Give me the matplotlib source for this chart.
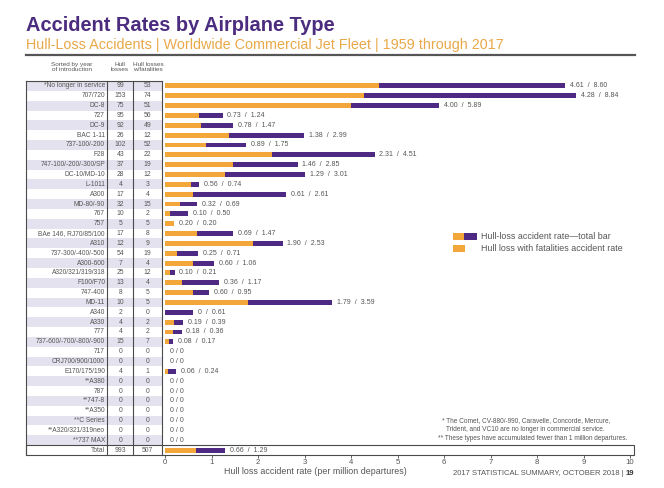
import matplotlib.pyplot as plt
import matplotlib.transforms as mtransforms
from matplotlib.patches import Rectangle
from matplotlib.lines import Line2D

plt.rcParams['font.family'] = ['Liberation Sans Narrow', 'Liberation Sans', 'DejaVu Sans']

# data
types = ['*No longer in service', '707/720', 'DC-8', '727', 'DC-9', 'BAC 1-11',
         '737-100/-200', 'F28', '747-100/-200/-300/SP', 'DC-10/MD-10', 'L-1011',
         'A300', 'MD-80/-90', '767', '757', 'BAe 146, RJ70/85/100', 'A310',
         '737-300/-400/-500', 'A300-600', 'A320/321/319/318', 'F100/F70', '747-400',
         'MD-11', 'A340', 'A330', '777', '737-600/-700/-800/-900', '717',
         'CRJ700/900/1000', 'E170/175/190', '**A380', '787', '**747-8', '**A350',
         '**C Series', '**A320/321/319neo', '**737 MAX', 'Total']
hull_losses = [99, 153, 75, 95, 92, 26, 102, 43, 37, 28, 4, 17, 32, 10, 5, 17, 12,
               54, 7, 25, 13, 8, 10, 2, 4, 4, 15, 0, 0, 4, 0, 0, 0, 0, 0, 0, 0, 993]
fatal_losses = [53, 74, 51, 56, 49, 12, 52, 22, 19, 12, 3, 4, 15, 2, 5, 8, 9,
                19, 4, 12, 4, 5, 5, 0, 2, 2, 7, 0, 0, 1, 0, 0, 0, 0, 0, 0, 0, 507]
fatal_rate = [4.61, 4.28, 4.00, 0.73, 0.78, 1.38, 0.89, 2.31, 1.46, 1.29, 0.56,
              0.61, 0.32, 0.10, 0.20, 0.69, 1.90, 0.25, 0.60, 0.10, 0.36, 0.60,
              1.79, 0, 0.19, 0.18, 0.08, 0, 0, 0.06, 0, 0, 0, 0, 0, 0, 0, 0.66]
total_rate = [8.60, 8.84, 5.89, 1.24, 1.47, 2.99, 1.75, 4.51, 2.85, 3.01, 0.74,
              2.61, 0.69, 0.50, 0.20, 1.47, 2.53, 0.71, 1.06, 0.21, 1.17, 0.95,
              3.59, 0.61, 0.39, 0.36, 0.17, 0, 0, 0.24, 0, 0, 0, 0, 0, 0, 0, 1.29]
xticks = list(range(0, 11))

ORANGE = '#F3A73B'
PURPLE = '#4E2A84'
GREY = '#555555'
LINE = '#4a4a4a'
SHADE = '#E3E2EE'

W, H = 664, 488
fig = plt.figure(figsize=(W / 100, H / 100), dpi=100)

def fx(px):
    return px / W

def fy(py):
    return 1 - py / H

# title block
fig.text(fx(26), fy(31), 'Accident Rates by Airplane Type', color='#4B2C7F',
         fontsize=14.4, fontweight='bold', family='Liberation Sans', va='baseline')
fig.text(fx(26), fy(48.5), 'Hull-Loss Accidents | Worldwide Commercial Jet Fleet | 1959 through 2017',
         color='#E9A849', fontsize=10.4, family='Liberation Sans', va='baseline')
fig.add_artist(Line2D([fx(26), fx(635)], [fy(54.5), fy(54.5)], color='#555555', lw=1.6))

# column headers
fig.text(fx(72), fy(67), 'Sorted by year\nof introduction', fontsize=4.6, color=GREY,
         ha='center', va='center', linespacing=1.1)
fig.text(fx(120), fy(67), 'Hull\nlosses', fontsize=4.6, color=GREY,
         ha='center', va='center', linespacing=1.1)
fig.text(fx(148), fy(67), 'Hull losses\nw/fatalities', fontsize=4.6, color=GREY,
         ha='center', va='center', linespacing=1.1)

# main axes: bars region
ax = fig.add_axes([fx(162), fy(455), fx(634 - 162), (455 - 81) / H])
n = len(types)
y = list(range(n))
x0_px, x10_px = 165, 630
per = (x10_px - x0_px) / 10
ax.set_xlim((162 - x0_px) / per, (634 - x0_px) / per)
ax.set_ylim(n - 0.5, -0.5)

ax.barh(y, total_rate, height=0.5, color=PURPLE, zorder=3)
ax.barh(y, fatal_rate, height=0.5, color=ORANGE, zorder=4)

for i in y:
    f, t = fatal_rate[i], total_rate[i]
    if t == 0:
        lab = '0 / 0'
    elif f == 0:
        lab = '0  /  %.2f' % t
    else:
        lab = '%.2f  /  %.2f' % (f, t)
    ax.text(t + 0.1, i, lab, fontsize=5.0, color=GREY, va='center', ha='left')

ax.set_xticks(xticks)
ax.set_xticklabels([str(v) for v in xticks], fontsize=5.6, color=GREY)
ax.tick_params(axis='x', length=2.2, width=0.6, color=LINE, pad=1)
ax.set_yticks([])
for s in ['top', 'right', 'bottom']:
    ax.spines[s].set_visible(False)
ax.spines['left'].set_color(LINE)
ax.spines['left'].set_linewidth(0.8)

# table on the left (figure x, data y)
tr = mtransforms.blended_transform_factory(fig.transFigure, ax.transData)
for i in y:
    if i % 2 == 0 and i < n - 1:
        ax.add_patch(Rectangle((fx(26), i - 0.5), fx(162 - 26), 1, transform=tr,
                               color=SHADE, lw=0, clip_on=False, zorder=0))
    ax.text(fx(105), i, types[i], transform=tr, fontsize=4.8, color=GREY,
            ha='right', va='center', clip_on=False)
    ax.text(fx(120.5), i, str(hull_losses[i]), transform=tr, fontsize=4.9, color=GREY,
            ha='center', va='center', clip_on=False)
    ax.text(fx(147.5), i, str(fatal_losses[i]), transform=tr, fontsize=4.9, color=GREY,
            ha='center', va='center', clip_on=False)

# table lines
for xp in [26, 107, 133]:
    ax.add_line(Line2D([fx(xp), fx(xp)], [-0.5, n - 0.5], transform=tr, color=LINE,
                       lw=0.8, clip_on=False))
ax.add_line(Line2D([fx(26), fx(162)], [-0.5, -0.5], transform=tr, color=LINE,
                   lw=0.8, clip_on=False))
ax.add_patch(Rectangle((fx(26), n - 1.5), fx(634 - 26), 1, transform=tr, fill=False,
                       edgecolor=LINE, lw=0.8, clip_on=False, zorder=5))

# legend
def legend_patch(x1, x2, yc, color):
    fig.add_artist(Rectangle((fx(x1), fy(yc + 3.4)), fx(x2 - x1), 6.8 / H, color=color, lw=0))

legend_patch(453, 464, 236.7, ORANGE)
legend_patch(464, 477, 236.7, PURPLE)
legend_patch(453, 465, 248.3, ORANGE)
fig.text(fx(481), fy(236.7), 'Hull-loss accident rate\u2014total bar', fontsize=6.4,
         color=GREY, va='center', family='Liberation Sans')
fig.text(fx(481), fy(248.3), 'Hull loss with fatalities accident rate', fontsize=6.4,
         color=GREY, va='center', family='Liberation Sans')

# footnotes
fig.text(fx(442), fy(420.7), '* The Comet, CV-880/-990, Caravelle, Concorde, Mercure,',
         fontsize=4.7, color=GREY, va='center')
fig.text(fx(446), fy(429.3), 'Trident, and VC10 are no longer in commercial service.',
         fontsize=4.7, color=GREY, va='center')
fig.text(fx(438), fy(438), '** These types have accumulated fewer than 1 million departures.',
         fontsize=4.7, color=GREY, va='center')

# axis label and footer
fig.text(fx(315), fy(472), 'Hull loss accident rate (per million departures)', fontsize=6.4,
         color=GREY, ha='center', va='center')
fig.text(fx(626), fy(473.5), '2017 STATISTICAL SUMMARY, OCTOBER 2018 | ', fontsize=5.5,
         color=GREY, ha='right', va='center')
fig.text(fx(626), fy(473.5), '19', fontsize=5.5, color='#333333', fontweight='bold',
         ha='left', va='center')

fig.savefig('out.png', dpi=100, facecolor='white')
